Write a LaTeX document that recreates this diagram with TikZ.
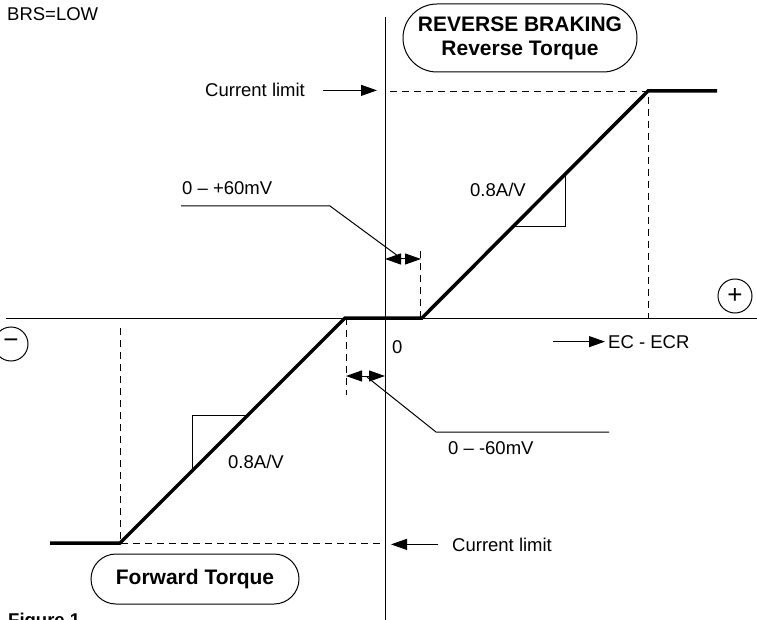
\documentclass[tikz,border=0pt]{standalone}
\usepackage{fontspec}
\setmainfont{Liberation Sans}
\usetikzlibrary{arrows.meta, positioning}

\begin{document}
\begin{tikzpicture}[x=1pt, y=-1pt, >={Triangle[length=16pt,width=11pt]},
  lbl/.style={inner sep=0pt, anchor=base west, font=\fontsize{18.5}{22}\selectfont},
  torque/.style={draw, line width=1pt, rounded corners=#1, align=center, font=\fontsize{21}{24}\selectfont\bfseries},
  sign/.style={draw, circle, line width=1pt, minimum size=34pt, inner sep=0pt, font=\fontsize{26}{26}\selectfont},
  limit/.style={dash pattern=on 7pt off 5pt, line width=0.8pt},
  curve/.style={line width=3.5pt},
  lead/.style={line width=1pt}]
\clip (0,0) rectangle (757,620);

% axes
\coordinate (xl) at (6,318);
\coordinate (xr) at (757,318);
\coordinate (yt) at (385,17);
\coordinate (yb) at (385,620);
\draw[lead] (xl) -- (xr);
\draw[lead] (yt) -- (yb);

% characteristic
\coordinate (p1) at (50,543);
\coordinate (p2) at (120,543);
\coordinate (p3) at (345,318);
\coordinate (p4) at (422,318);
\coordinate (p5) at (648,91);
\coordinate (p6) at (717,91);
\draw[curve] (p1) -- (p2) -- (p3) -- (p4) -- (p5) -- (p6);

% limits
\draw[limit] (390,91) -- (p5) -- (p5 |- xl);
\draw[limit] (380,543) -- (p2) -- (120,326);
\draw[limit] (420,318) -- (420,250);
\draw[limit] (346,318) -- (346,395);

% dead band
\draw[<->, lead] (385,259) -- (421,259);
\draw[<->, lead] (346,376) -- (385,376);

% slopes
\draw[lead] (513,227) -| (565,175);
\draw[lead] (192,471) |- (248,415);
\node[lbl] (slA) at (470,197) {0.8A/V};
\node[lbl] (slB) at (228,468) {0.8A/V};

% labels
\node[lbl] (brs) at (7,21) {BRS=LOW};
\node[lbl] (climA) at (205,97) {Current limit};
\draw[->, lead] ([xshift=18pt]climA.east) -- ([xshift=-8pt]climA.east -| yt);
\node[lbl] (climB) at (452,551) {Current limit};
\draw[->, lead] ([xshift=-14pt]climB.west) -- ([xshift=6pt]climB.west -| yt);
\node[lbl] (ec) at (608,348) {EC - ECR};
\draw[->, lead] ([xshift=-55pt]ec.west) -- ([xshift=-3pt]ec.west);
\node[lbl] (zero) at (392,353) {0};

\node[lbl] (mvA) at (182,195) {0 – +60mV};
\coordinate (kA) at (330,206);
\draw[lead] (181,206) -- (kA) -- (402,259);
\node[lbl] (mvB) at (448,454) {0 – -60mV};
\coordinate (kB) at (436,432);
\draw[lead] (367,377) -- (kB) -- (609,432);

% torque boxes
\node[torque=34pt, minimum width=234pt, minimum height=68pt] (rev) at (520,38) {REVERSE BRAKING\\Reverse Torque};
\node[torque=25pt, minimum width=208pt, minimum height=50pt] (fwd) at (195,579) {Forward Torque};

\node[sign] (plus) at (735,296) {+};
\node[sign] (minus) at (11,344) {−};

\node[lbl, font=\fontsize{18.5}{22}\selectfont\bfseries] (fig) at (8,626) {Figure 1};
\end{tikzpicture}
\end{document}
